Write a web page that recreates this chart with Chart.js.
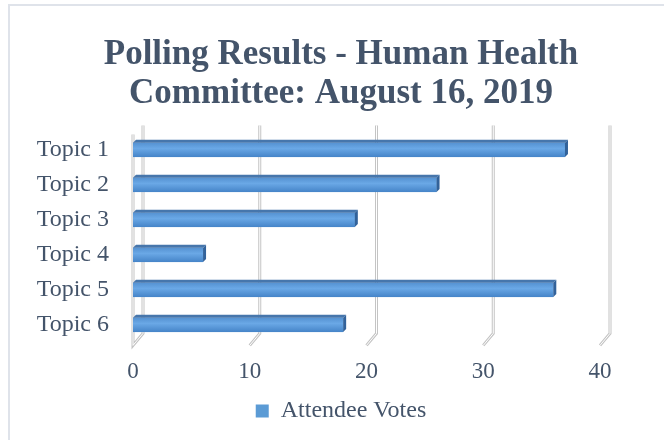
<!DOCTYPE html>
<html>
<head>
<meta charset="utf-8">
<script src="https://cdn.jsdelivr.net/npm/chart.js@4.4.0/dist/chart.umd.min.js"></script>
<style>
  html, body { margin: 0; padding: 0; background: #fff; overflow: hidden; }
  #wrap { position: relative; width: 664px; height: 440px; overflow: hidden; }
  #frame { position: absolute; left: 8px; top: 4px; width: 700px; height: 500px;
           border-left: 2px solid #dfe3ea; border-top: 2px solid #dfe3ea; }
  canvas { position: absolute; left: 0; top: 0; }
</style>
</head>
<body>
<div id="wrap">
  <div id="frame"></div>
  <canvas id="myChart" width="664" height="440"></canvas>
</div>
<script>
'use strict';

const topics = ['Topic 1', 'Topic 2', 'Topic 3', 'Topic 4', 'Topic 5', 'Topic 6'];
const votes = [37, 26, 19, 6, 36, 18];
const xTicks = [0, 10, 20, 30, 40];
const titleLines = ['Polling Results - Human Health', 'Committee: August 16, 2019'];
const seriesName = 'Attendee Votes';

const textColor = '#44546A';
const serif = '"Liberation Serif", "Times New Roman", serif';
const depth = 3;

// walls behind the bars, drawn like thin 3D panels
const wallPlugin = {
  id: 'walls',
  beforeDatasetsDraw(chart) {
    const ctx = chart.ctx;
    const area = chart.chartArea;
    const xs = chart.scales.x;
    ctx.save();
    xTicks.forEach(function(v) {
      const xf = xs.getPixelForValue(v);
      const xb = xf + 10;
      ctx.beginPath();
      ctx.moveTo(xb, area.top - 7);
      ctx.lineTo(xb, area.bottom - 9);
      ctx.lineTo(xf, area.bottom + 3);
      if (v === 0) {
        ctx.lineTo(xf, area.top + 2);
      }
      ctx.strokeStyle = '#c4c4c4';
      ctx.lineWidth = 3;
      ctx.stroke();
      ctx.strokeStyle = '#ffffff';
      ctx.lineWidth = 1;
      ctx.stroke();
    });
    ctx.restore();
  }
};

// shading + top/end faces on each bar
const barPlugin = {
  id: 'bar3d',
  afterDatasetsDraw(chart) {
    const ctx = chart.ctx;
    const meta = chart.getDatasetMeta(0);
    ctx.save();
    meta.data.forEach(function(bar) {
      const top = bar.y - bar.height / 2;
      const bottom = bar.y + bar.height / 2;
      const g = ctx.createLinearGradient(0, top, 0, bottom);
      g.addColorStop(0, '#5592d2');
      g.addColorStop(0.4, '#6aa8e6');
      g.addColorStop(1, '#4584c8');
      ctx.fillStyle = g;
      ctx.fillRect(bar.base, top, bar.x - bar.base, bar.height);

      ctx.beginPath();
      ctx.moveTo(bar.base, top);
      ctx.lineTo(bar.base + depth, top - depth);
      ctx.lineTo(bar.x + depth, top - depth);
      ctx.lineTo(bar.x, top);
      ctx.closePath();
      ctx.fillStyle = '#4676ac';
      ctx.fill();

      ctx.beginPath();
      ctx.moveTo(bar.x, top);
      ctx.lineTo(bar.x + depth, top - depth);
      ctx.lineTo(bar.x + depth, bottom - depth);
      ctx.lineTo(bar.x, bottom);
      ctx.closePath();
      ctx.fillStyle = '#32629a';
      ctx.fill();
    });
    ctx.restore();
  }
};

const canvas = document.getElementById('myChart');
const chart = new Chart(canvas.getContext('2d'), {
  type: 'bar',
  data: {
    labels: topics,
    datasets: [{
      label: seriesName,
      data: votes,
      backgroundColor: '#5b9bd5',
      borderWidth: 0,
      categoryPercentage: 0.5,
      barPercentage: 0.82
    }]
  },
  options: {
    indexAxis: 'y',
    responsive: false,
    animation: false,
    devicePixelRatio: 1,
    // the frame is wider than the window, so its centre sits right of the canvas centre
    layout: { padding: { left: 20, right: 2, top: 25, bottom: 7 } },
    plugins: {
      title: {
        display: true,
        text: titleLines,
        color: textColor,
        font: { family: serif, size: 35, weight: 'bold', lineHeight: 1.12 },
        padding: { top: 10, bottom: 19 }
      },
      legend: {
        position: 'bottom',
        labels: {
          color: textColor,
          font: { family: serif, size: 24 },
          boxWidth: 13,
          boxHeight: 13,
          padding: 5
        }
      },
      tooltip: { enabled: false }
    },
    scales: {
      x: {
        min: 0,
        max: 40,
        afterBuildTicks: function(axis) {
          axis.ticks = xTicks.map(function(v) { return { value: v }; });
        },
        grid: { display: false },
        border: { display: false },
        ticks: {
          color: textColor,
          padding: 8,
          font: { family: serif, size: 23 }
        }
      },
      y: {
        afterFit: function(axis) { axis.width = 113; },
        grid: { display: false },
        border: { display: false },
        ticks: {
          color: textColor,
          padding: 16,
          font: { family: serif, size: 24 }
        }
      },
      yRight: {
        type: 'category',
        position: 'right',
        afterFit: function(axis) { axis.width = 62; },
        grid: { display: false },
        border: { display: false },
        ticks: { display: false }
      }
    }
  },
  plugins: [wallPlugin, barPlugin]
});
</script>
</body>
</html>
